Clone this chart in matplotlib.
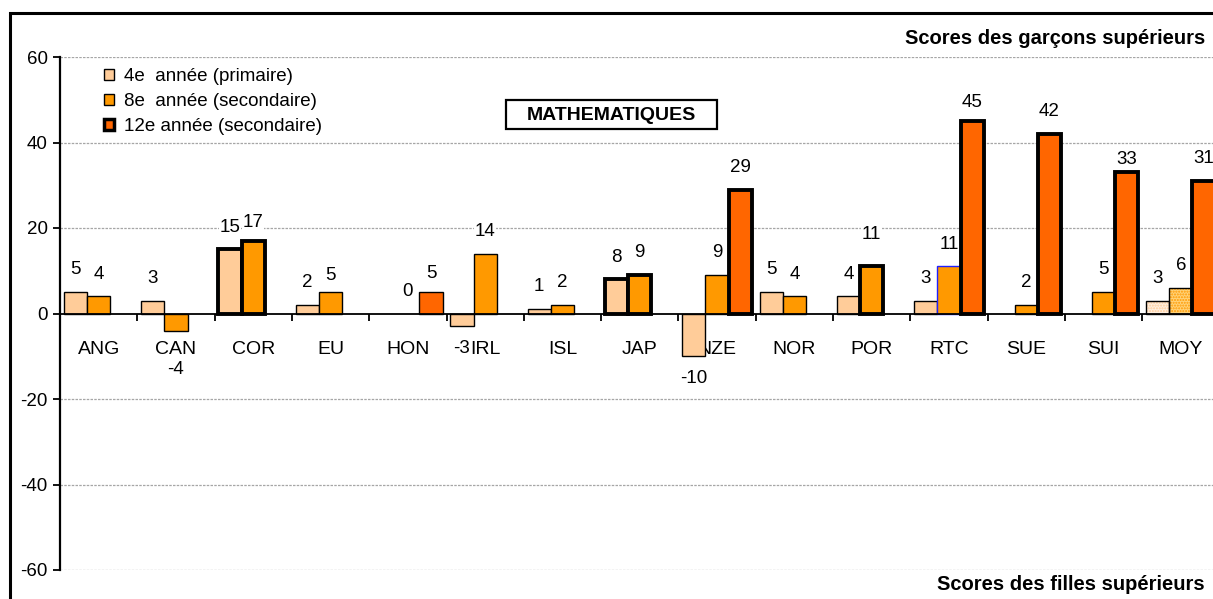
import numpy as np
import matplotlib
matplotlib.use("Agg")
import matplotlib.pyplot as plt
from matplotlib.patches import Rectangle, Patch

plt.rcParams['font.family'] = ['Liberation Sans', 'DejaVu Sans']

# ---- data ----
categories = ["ANG", "CAN", "COR", "EU", "HON", "IRL", "ISL", "JAP",
              "NZE", "NOR", "POR", "RTC", "SUE", "SUI", "MOY"]
series_names = ["4e  année (primaire)", "8e  année (secondaire)",
                "12e année (secondaire)"]
nan = np.nan
grade4 = [5, 3, 15, 2, nan, -3, 1, 8, -10, 5, 4, 3, nan, nan, 3]
grade8 = [4, -4, 17, 5, 0, 14, 2, 9, 9, 4, 11, 11, 2, 5, 6]
grade12 = [nan, nan, nan, nan, 5, nan, nan, nan, 29, nan, nan, 45, 42, 33, 31]
yticks = [-60, -40, -20, 0, 20, 40, 60]

# ---- styling ----
colors = ["#FFCC99", "#FF9900", "#FF6600"]
# bars drawn with a heavy outline (significant differences)
thick = [
    {"COR", "JAP"},
    {"COR", "JAP", "POR"},
    {"NZE", "RTC", "SUE", "SUI", "MOY"},
]
hatched = {"MOY"}
# vertical shift of individual value labels (data units) where it differs
label_shift = {
    (1, "CAN"): -9.1, (1, "COR"): 4.3, (2, "SUI"): 3.0, (1, "POR"): 7.5,
    (2, "RTC"): 4.4, (1, "EU"): 4.0, (2, "HON"): 4.4,
}
default_shift = 5.2
FS = 13.5
CAT_FS = 14

W, H = 1213, 599
fig = plt.figure(figsize=(W / 100, H / 100), dpi=100)

# outer chart frame (extends past the right and bottom edges)
fig.patches.append(Rectangle((10 / W, -0.2), 1.5, 1 - 13 / H + 0.2,
                             transform=fig.transFigure, fill=False,
                             edgecolor="black", linewidth=2.2, zorder=0))

ax = fig.add_axes([60 / W, 1 - 570 / H, 1159.5 / W, 513 / H])
ax.set_xlim(0, len(categories))
ax.set_ylim(-60, 60)
ax.patch.set_alpha(0)

for y in yticks:
    if y != 0:
        ax.axhline(y, color="#A6A6A6", lw=0.9, ls=(0, (2, 1)), zorder=0)

bw = 0.3
offsets = [-bw, 0, bw]
series = [grade4, grade8, grade12]
x = np.arange(len(categories)) + 0.5

for s, (vals, col) in enumerate(zip(series, colors)):
    for i, cat in enumerate(categories):
        v = vals[i]
        if np.isnan(v):
            continue
        xc = x[i] + offsets[s]
        lw = 2.8 if cat in thick[s] else 1.0
        ec = "black"
        if cat == "RTC" and s == 1:
            ec = "#2020FF"
        if cat in hatched and s < 2:
            face = "#FFF0E0" if s == 0 else "#FFD37A"
            ax.bar(xc, v, bw, color=face, edgecolor=col, hatch="......",
                   linewidth=0, zorder=2)
            ax.bar(xc, v, bw, fill=False, edgecolor=ec, linewidth=lw,
                   zorder=3)
        elif v != 0:
            ax.bar(xc, v, bw, color=col, edgecolor=ec, linewidth=lw,
                   zorder=2 if lw < 2 else 3)
        shift = label_shift.get((s, cat), default_shift if v >= 0 else -default_shift)
        ax.text(xc, v + shift, f"{v:g}", ha="center", va="center",
                fontsize=FS, zorder=4,
                bbox=dict(facecolor="white", edgecolor="none", pad=0.5))

# axes
for side in ("top", "right"):
    ax.spines[side].set_visible(False)
ax.spines["bottom"].set_position(("data", 0))
ax.spines["bottom"].set_linewidth(1.3)
ax.spines["left"].set_linewidth(1.6)
ax.set_yticks(yticks)
ax.set_yticklabels([str(t) for t in yticks], fontsize=FS)
ax.tick_params(axis="y", direction="out", length=5, width=1.3, pad=4)

ax.set_xticks(np.arange(len(categories) + 1))
ax.set_xticklabels([])
ax.tick_params(axis="x", which="major", direction="out", length=5, width=1.3)
ax.set_xticks(x, minor=True)
ax.set_xticklabels(categories, minor=True, fontsize=CAT_FS)
ax.tick_params(axis="x", which="minor", length=0, pad=20)

# legend
handles = [Patch(facecolor=colors[0], edgecolor="black", linewidth=1.0),
           Patch(facecolor=colors[1], edgecolor="black", linewidth=1.0),
           Patch(facecolor=colors[2], edgecolor="black", linewidth=2.5)]
fig.legend(handles, series_names, loc="upper left",
           bbox_to_anchor=(91 / W, 1 - 55 / H), frameon=False, fontsize=FS,
           handlelength=0.55, handleheight=0.55, handletextpad=0.5,
           labelspacing=0.42, borderpad=0.2)

# title box
fig.patches.append(Rectangle((506 / W, 1 - 129 / H), 211 / W, 29 / H,
                             transform=fig.transFigure, fill=True,
                             facecolor="white", edgecolor="black",
                             linewidth=1.6, zorder=5))
fig.text(611.5 / W, 1 - 115 / H, "MATHEMATIQUES", ha="center", va="center",
         fontsize=14, fontweight="bold", zorder=6)

fig.text(1205 / W, 1 - 39 / H, "Scores des garçons supérieurs", ha="right",
         va="center", fontsize=14.5, fontweight="bold")
fig.text(1205 / W, 1 - 585 / H, "Scores des filles supérieurs", ha="right",
         va="center", fontsize=14.5, fontweight="bold")

fig.savefig("out.png", dpi=100)
